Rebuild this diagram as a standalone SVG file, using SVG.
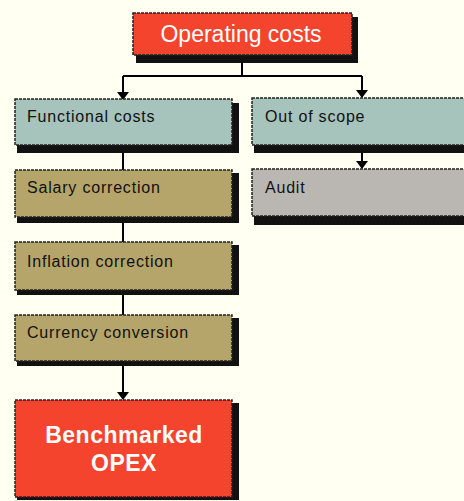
<svg xmlns="http://www.w3.org/2000/svg" width="464" height="501" viewBox="0 0 464 501">
<style>
.sh{fill:#111;}
.bx{stroke:#222;stroke-width:1.5;stroke-dasharray:3 1;}
.red{fill:#f4442e;}
.teal{fill:#a6c3bc;}
.olive{fill:#b5a56a;}
.grey{fill:#bab7b2;}
.t{font-family:"Liberation Sans",Arial,sans-serif;font-size:16px;letter-spacing:0.8px;fill:#111;}
.tw{font-family:"Liberation Sans",Arial,sans-serif;fill:#fff;font-size:23px;}
.ln{stroke:#000;stroke-width:2;fill:none;}
</style>
<rect width="464" height="501" fill="#fffff2"/>
<g id="connectors">
<path class="ln" d="M242,55 V76 M123,76 H362"/>
<path class="ln" d="M123,76 V99"/>
<path class="ln" d="M362,76 V97"/>
<path d="M117,92 L129,92 L123,100 Z"/>
<path d="M356,90 L368,90 L362,98 Z"/>
<path class="ln" d="M123,146 V170"/>
<path class="ln" d="M362,146 V168"/>
<path d="M356,161 L368,161 L362,169 Z"/>
<path class="ln" d="M123,217 V242"/>
<path class="ln" d="M123,290 V315"/>
<path class="ln" d="M123,361 V399"/>
<path d="M117,392 L129,392 L123,400 Z"/>
</g>
<g id="operating-costs">
<rect class="sh" x="136" y="17" width="222" height="46"/>
<rect class="bx red" x="133" y="13" width="219" height="42"/>
<text class="tw" x="241" y="42" text-anchor="middle">Operating costs</text>
</g>
<g id="functional-costs">
<rect class="sh" x="17" y="103" width="222" height="50"/>
<rect class="bx teal" x="15" y="99" width="217" height="46"/>
<text class="t" x="27" y="122">Functional costs</text>
</g>
<g id="out-of-scope">
<rect class="sh" x="254" y="101" width="215" height="52"/>
<rect class="bx teal" x="252" y="98" width="220" height="47"/>
<text class="t" x="265" y="122">Out of scope</text>
</g>
<g id="salary-correction">
<rect class="sh" x="17" y="173" width="222" height="50"/>
<rect class="bx olive" x="15" y="170" width="217" height="47"/>
<text class="t" x="27" y="193">Salary correction</text>
</g>
<g id="audit">
<rect class="sh" x="254" y="172" width="215" height="53"/>
<rect class="bx grey" x="252" y="169" width="220" height="47"/>
<text class="t" x="265" y="193">Audit</text>
</g>
<g id="inflation-correction">
<rect class="sh" x="17" y="245" width="222" height="50"/>
<rect class="bx olive" x="15" y="242" width="217" height="48"/>
<text class="t" x="27" y="267">Inflation correction</text>
</g>
<g id="currency-conversion">
<rect class="sh" x="17" y="318" width="222" height="48"/>
<rect class="bx olive" x="15" y="315" width="217" height="46"/>
<text class="t" x="27" y="338">Currency conversion</text>
</g>
<g id="benchmarked-opex">
<rect class="sh" x="17" y="403" width="222" height="97"/>
<rect class="bx red" x="15" y="400" width="217" height="97"/>
<text class="tw" x="124" y="443" font-weight="bold" text-anchor="middle" letter-spacing="0.5">Benchmarked</text>
<text class="tw" x="124" y="471" font-weight="bold" text-anchor="middle" letter-spacing="0.5">OPEX</text>
</g>
</svg>
